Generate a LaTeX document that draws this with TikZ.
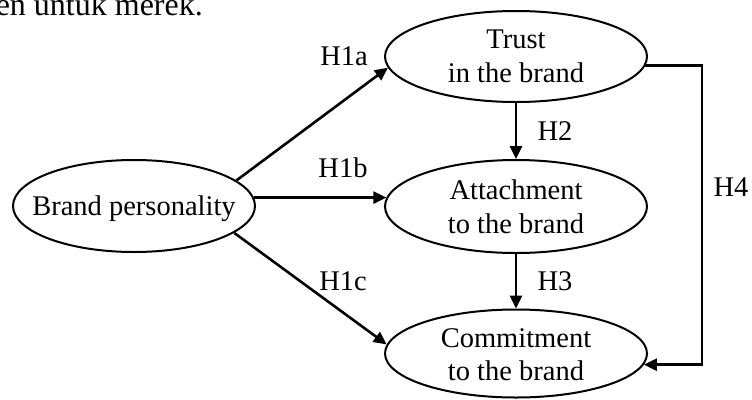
\documentclass[tikz,border=0pt]{standalone}
\usepackage{fontspec}
\setmainfont{Liberation Serif}
\usetikzlibrary{arrows.meta,shapes.geometric}
\begin{document}
\begin{tikzpicture}[x=1pt,y=-1pt,
  ell/.style={draw, line width=2pt, ellipse, inner sep=0pt},
  txt/.style={font=\fontsize{28.5}{33.5}\selectfont, inner sep=0pt, align=center},
  lbl/.style={font=\fontsize{28.5}{33.5}\selectfont, inner sep=0pt},
  arr/.style={line width=2.6pt, -{Triangle[length=13pt,width=12pt]}}]
\useasboundingbox (0,0) rectangle (752,399);
\fill[white] (0,0) rectangle (752,399);
\clip (0,0) rectangle (752,399);
% fragment of running text above the figure (cut at the top edge)
\node[anchor=base east, font=\fontsize{32}{38}\selectfont, inner sep=0pt] (toptext) at (203,15) {en untuk merek.};
% ellipses
\node[ell, minimum width=242pt, minimum height=92pt] (brand) at (134,206) {};
\node[ell, minimum width=262pt, minimum height=91pt] (trust) at (516,56.5) {};
\node[ell, minimum width=262pt, minimum height=93pt] (attach) at (516,206.5) {};
\node[ell, minimum width=262pt, minimum height=88pt] (commit) at (516,353.5) {};
% texts
\node[txt, anchor=base] (brandt) at (134,215) {Brand personality};
\node[txt] (trustt) at (trust) {Trust\\in the brand};
\node[txt] (attacht) at (attach) {Attachment\\to the brand};
\node[txt] (committ) at ([yshift=-1pt]commit.center) {Commitment\\to the brand};
% connectors
\draw[arr] (brand.14) -- (trust.185);
\draw[arr] (brand.4) -- (brand.4 -| attach.176);
\draw[arr] (brand.-15) -- (commit.176);
\draw[arr] (trust.south) -- (attach.north);
\draw[arr] (attach.south) -- (commit.north);
\coordinate (h4x) at (702,0);
\draw[arr, line width=2.4pt] (trust.-4) -- (trust.-4 -| h4x) -- (commit.-5 -| h4x) -- (commit.-5);
% labels
\node[lbl] (l1a) at (344,56) {H1a};
\node[lbl] (l1b) at (343,168) {H1b};
\node[lbl] (l1c) at (343,281) {H1c};
\node[lbl] (l2) at (555,131) {H2};
\node[lbl] (l3) at (555,281) {H3};
\node[lbl] (l4) at (731,187) {H4};
\end{tikzpicture}
\end{document}
